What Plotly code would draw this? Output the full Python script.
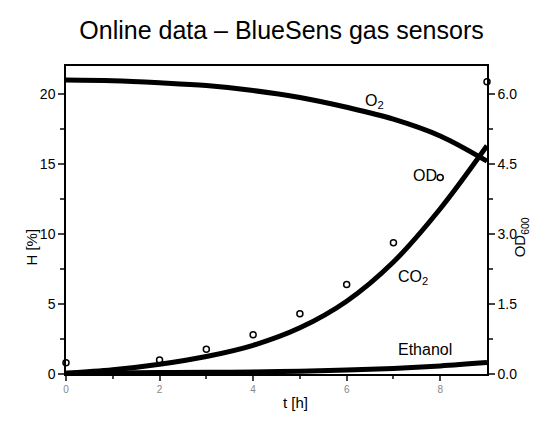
import plotly.graph_objects as go

t = [0, 1, 2, 3, 4, 5, 6, 7, 8, 9]
o2 = [21.0, 20.95, 20.8, 20.6, 20.25, 19.75, 19.05, 18.2, 17.0, 15.2]
co2 = [0.05, 0.3, 0.7, 1.25, 2.05, 3.3, 5.2, 8.0, 11.8, 16.3]
ethanol = [0.05, 0.08, 0.1, 0.12, 0.15, 0.2, 0.28, 0.4, 0.58, 0.82]
od_t = [0, 2, 3, 4, 5, 6, 7, 8, 9]
od600 = [0.24, 0.30, 0.53, 0.84, 1.29, 1.92, 2.81, 4.21, 6.26]

FONT = "Arial, Liberation Sans, sans-serif"

fig = go.Figure()
for ys in (o2, co2, ethanol):
    fig.add_trace(go.Scatter(x=t, y=ys, mode="lines", line=dict(color="black", width=5, shape="spline"),
                             showlegend=False, hoverinfo="skip"))
fig.add_trace(go.Scatter(x=od_t, y=od600, mode="markers", yaxis="y2",
                         marker=dict(symbol="circle-open", size=6, color="black", line=dict(width=1.5)),
                         showlegend=False, cliponaxis=False))

labels = [("O<sub>2</sub>", 6.6, 19.5), ("OD", 7.67, 14.2), ("CO<sub>2</sub>", 7.42, 6.9), ("Ethanol", 7.67, 1.75)]
for txt, x, y in labels:
    fig.add_annotation(x=x, y=y, text=txt, showarrow=False, font=dict(family=FONT, size=16, color="black"))

# axis titles as paper-positioned annotations
fig.add_annotation(xref="paper", yref="paper", x=-0.107, y=0.412, text="H [%]", textangle=-90, showarrow=False,
                   font=dict(family=FONT, size=15, color="black"))
fig.add_annotation(xref="paper", yref="paper", x=1.109, y=0.445, text="OD<sub>600</sub>", textangle=-90,
                   showarrow=False, font=dict(family=FONT, size=15, color="black"))
fig.add_annotation(xref="paper", yref="paper", x=0.544, y=-0.127, text="t [h]", showarrow=False,
                   font=dict(family=FONT, size=15, color="black"))

fig.update_layout(
    width=547, height=424,
    margin=dict(l=58, r=68, t=58, b=58),
    paper_bgcolor="white", plot_bgcolor="white",
    title=dict(text="Online data – BlueSens gas sensors", x=0.5, xanchor="center", y=0.948, yanchor="middle",
               font=dict(family=FONT, size=25, color="black")),
    xaxis=dict(range=[0, 9], tickvals=[0, 2, 4, 6, 8], ticks="outside", ticklen=5, tickwidth=1.5,
               minor=dict(tickvals=[1, 3, 5, 7], ticks="outside", ticklen=3, tickwidth=1.5),
               showgrid=False, zeroline=False, showline=True, linecolor="black", linewidth=1.5, mirror=True,
               tickfont=dict(family=FONT, size=10, color="#888888"), automargin=False),
    yaxis=dict(range=[0, 22], tickvals=[0, 5, 10, 15, 20], ticks="outside", ticklen=6, tickwidth=1.5,
               minor=dict(tickvals=[2.5, 7.5, 12.5, 17.5], ticks="outside", ticklen=4, tickwidth=1.5),
               showgrid=False, zeroline=False, showline=True, linecolor="black", linewidth=1.5,
               tickfont=dict(family=FONT, size=14, color="black"), automargin=False),
    yaxis2=dict(range=[0, 6.6], overlaying="y", side="right", tickvals=[0, 1.5, 3.0, 4.5, 6.0],
                tickformat=".1f", ticks="outside", ticklen=6, tickwidth=1.5,
                minor=dict(tickvals=[0.75, 2.25, 3.75, 5.25], ticks="outside", ticklen=4, tickwidth=1.5),
                showgrid=False, zeroline=False, showline=True, linecolor="black", linewidth=1.5,
                tickfont=dict(family=FONT, size=14, color="black"), automargin=False),
)

fig.write_html("out.html")
